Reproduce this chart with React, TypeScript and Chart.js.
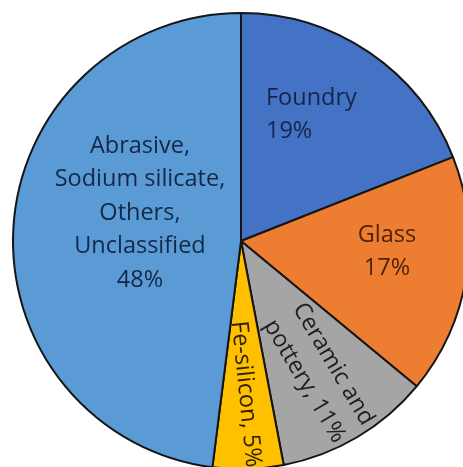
import React, { useEffect, useRef } from "react";
import { Chart, registerables } from "chart.js";

Chart.register(...registerables);

const categories = ["Foundry", "Glass", "Ceramic and pottery", "Fe-silicon", "Abrasive, Sodium silicate, Others, Unclassified"];
const values = [19, 17, 11, 5, 48];
const labelLines = [
  ["Foundry", "19%"],
  ["Glass", "17%"],
  ["Ceramic and", "pottery, 11%"],
  ["Fe-silicon, 5%"],
  ["Abrasive,", "Sodium silicate,", "Others,", "Unclassified", "48%"],
];
const sliceColors = ["#4472C4", "#ED7D31", "#A5A5A5", "#FFC000", "#5B9BD5"];
const textColors = ["#16264a", "#4a240c", "#1e1e1e", "#2e2200", "#142846"];
// label placement: radial fraction, angle shift (deg) from slice middle, alignment, rotation
const labelStyles = [
  { frac: 0.564, shift: -23, align: "left", rotate: false, rotShift: 0 },
  { frac: 0.642, shift: -4.7, align: "center", rotate: false, rotShift: 0 },
  { frac: 0.671, shift: 0, align: "center", rotate: true, rotShift: 0 },
  { frac: 0.672, shift: 0, align: "center", rotate: true, rotShift: -4 },
  { frac: 0.46, shift: 11.9, align: "center", rotate: false, rotShift: 0 },
];

const FONT = "23.5px 'Open Sans', Lato, sans-serif";
const LINE_H = 33.5;

const labelPlugin = {
  id: "sliceLabels",
  afterDatasetsDraw(chart: any) {
    const ctx = chart.ctx;
    const meta = chart.getDatasetMeta(0);
    meta.data.forEach((arc: any, i: number) => {
      const st = labelStyles[i];
      const mid = (arc.startAngle + arc.endAngle) / 2;
      const a = mid + (st.shift * Math.PI) / 180;
      const r = arc.outerRadius * st.frac;
      const x = arc.x + Math.cos(a) * r;
      const y = arc.y + Math.sin(a) * r;
      const lines = labelLines[i];
      ctx.save();
      ctx.translate(x, y);
      if (st.rotate) ctx.rotate(mid + (st.rotShift * Math.PI) / 180);
      ctx.font = FONT;
      ctx.fillStyle = textColors[i];
      ctx.textAlign = st.align;
      ctx.textBaseline = "middle";
      const n = lines.length;
      lines.forEach((ln: string, k: number) => {
        ctx.fillText(ln, 0, (k - (n - 1) / 2) * LINE_H);
      });
      ctx.restore();
    });
  },
};

export default function App() {
  const ref = useRef<HTMLCanvasElement>(null);
  useEffect(() => {
    const chart = new Chart(ref.current as HTMLCanvasElement, {
      type: "pie",
      data: {
        labels: categories,
        datasets: [
          {
            data: values,
            backgroundColor: sliceColors,
            borderColor: "#151515",
            borderWidth: 2,
            borderAlign: "center",
          },
        ],
      },
      options: {
        responsive: false,
        animation: false,
        devicePixelRatio: 1,
        radius: 228,
        layout: { padding: 0 },
        plugins: { legend: { display: false }, tooltip: { enabled: false } },
      } as any,
      plugins: [labelPlugin],
    });
    return () => chart.destroy();
  }, []);
  return (
    <div
      style={{
        position: "fixed",
        left: 0,
        top: 0,
        width: 463,
        height: 467,
        overflow: "hidden",
        background: "#fff",
      }}
    >
      <canvas ref={ref} width={482} height={482} style={{ width: 482, height: 482, display: "block" }} />
    </div>
  );
}
